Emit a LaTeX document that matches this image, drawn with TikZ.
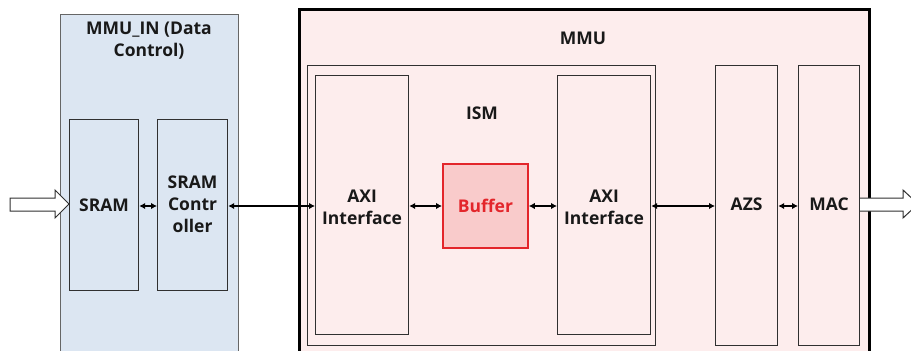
\documentclass[tikz,border=0pt]{standalone}
\usepackage{fontspec}
\setmainfont{Open Sans}
\usetikzlibrary{arrows.meta}
\definecolor{inblue}{HTML}{DCE6F2}
\definecolor{mmupink}{HTML}{FDEDED}
\definecolor{bufred}{HTML}{E3262B}
\definecolor{buffill}{HTML}{F9CBCB}
\definecolor{edgegray}{HTML}{303030}
\begin{document}
\begin{tikzpicture}[x=1pt,y=-1pt,
  lbl/.style={font=\fontsize{17.5}{22}\selectfont\bfseries, text=black!90, align=center, inner sep=0pt},
  block/.style={draw=edgegray, line width=1.2pt, anchor=north west, inner sep=0pt},
  conn/.style={line width=1.9pt, black, {Latex[length=6pt,width=6.5pt]}-{Latex[length=6pt,width=6.5pt]}},
  hollow/.style={draw=edgegray, line width=1pt, fill=white}
]
\useasboundingbox (0,0) rectangle (911,351);
\begin{scope}
\clip (0,0) rectangle (911,351);
% MMU_IN container
\node[block, fill=inblue, draw=gray!80!black, minimum width=178pt, minimum height=360pt] (mmuin) at (60,14) {};
% MMU container
\node[block, fill=mmupink, draw=black, line width=2.6pt, minimum width=570pt, minimum height=360pt] (mmu) at (298,8) {};
\end{scope}
\node[lbl] (mmuinlbl) at (149,41) {MMU\_IN (Data\\Control)};
\node[lbl] (mmulbl) at (583,38) {MMU};
% ISM
\node[block, minimum width=348pt, minimum height=280pt] (ism) at (307,65) {};
\node[lbl] (ismlbl) at (482,113) {ISM};
% inner blocks
\node[block, minimum width=69pt, minimum height=171pt] (sram) at (69,119) {};
\node[lbl] at (sram.center) {SRAM};
\node[block, minimum width=70pt, minimum height=171pt] (ctrl) at (157,119) {};
\node[lbl] at ([yshift=1pt]ctrl.center) {SRAM\\Contr\\oller};
\node[block, minimum width=93pt, minimum height=259pt] (axi1) at (315,75) {};
\node[lbl] at ([yshift=-2pt]axi1.center) {AXI\\Interface};
\node[block, draw=bufred, fill=buffill, line width=1.8pt, minimum width=85pt, minimum height=84pt] (buf) at (442,163) {};
\node[lbl, text=bufred] at (buf.center) {Buffer};
\node[block, minimum width=93pt, minimum height=259pt] (axi2) at (557,75) {};
\node[lbl] at ([yshift=-2pt]axi2.center) {AXI\\Interface};
\node[block, minimum width=62pt, minimum height=280pt] (azs) at (715,65) {};
\node[lbl] at ([yshift=1pt]azs.center) {AZS};
\node[block, minimum width=61pt, minimum height=280pt] (mac) at (798,65) {};
\node[lbl] at ([yshift=1pt]mac.center) {MAC};
% connectors
\coordinate (y0) at (0,206);
\draw[conn] (sram.east |- y0) -- (ctrl.west |- y0);
\draw[conn] (ctrl.east |- y0) -- (axi1.west |- y0);
\draw[conn] (axi1.east |- y0) -- (buf.west |- y0);
\draw[conn] (buf.east |- y0) -- (axi2.west |- y0);
\draw[conn] (axi2.east |- y0) -- (azs.west |- y0);
\draw[conn] (azs.east |- y0) -- (mac.west |- y0);
% hollow arrows
\draw[hollow] (10,198) -- (55,198) -- (55,190) -- (sram.west |- 0,204) -- (55,218) -- (55,211) -- (10,211) -- cycle;
\begin{scope}
\clip (0,0) rectangle (911,351);
\draw[hollow] (mac.east |- 0,198) -- (903,198) -- (903,190) -- (918,204) -- (903,218) -- (903,211) -- (mac.east |- 0,211);
\end{scope}
\end{tikzpicture}
\end{document}
